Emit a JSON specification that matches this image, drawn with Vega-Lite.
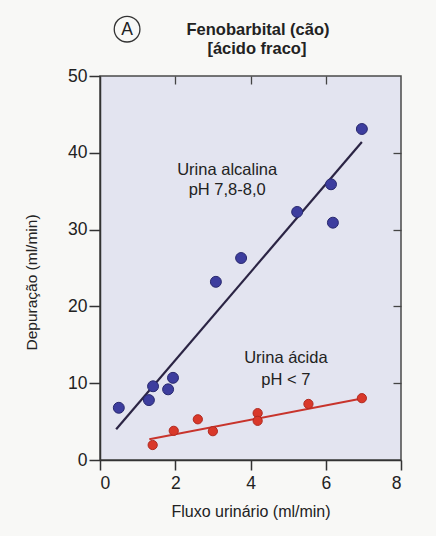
{
  "$schema": "https://vega.github.io/schema/vega-lite/v6.json",
  "width": 301,
  "height": 384,
  "autosize": "none",
  "padding": {"left": 100, "top": 76, "right": 35, "bottom": 76},
  "background": "#f8f8f6",
  "config": {
    "view": {"fill": "#e3e4f0", "stroke": "#4a4a4a", "strokeWidth": 1.5},
    "font": "Liberation Sans",
    "axis": {"grid": false}
  },
  "datasets": {
    "alkPts": [
      {"fluxo": 0.50, "dep": 6.8},
      {"fluxo": 1.30, "dep": 7.8},
      {"fluxo": 1.41, "dep": 9.6},
      {"fluxo": 1.81, "dep": 9.2},
      {"fluxo": 1.94, "dep": 10.7},
      {"fluxo": 3.08, "dep": 23.2},
      {"fluxo": 3.75, "dep": 26.3},
      {"fluxo": 5.24, "dep": 32.3},
      {"fluxo": 6.14, "dep": 35.9},
      {"fluxo": 6.19, "dep": 30.9},
      {"fluxo": 6.96, "dep": 43.1}
    ],
    "acidPts": [
      {"fluxo": 1.40, "dep": 1.95},
      {"fluxo": 1.96, "dep": 3.8},
      {"fluxo": 2.60, "dep": 5.3},
      {"fluxo": 3.00, "dep": 3.75},
      {"fluxo": 4.19, "dep": 6.1},
      {"fluxo": 4.19, "dep": 5.1},
      {"fluxo": 5.54, "dep": 7.3},
      {"fluxo": 6.96, "dep": 8.05}
    ],
    "alkLine": [
      {"fluxo": 0.43, "dep": 4.0},
      {"fluxo": 6.96, "dep": 41.4}
    ],
    "acidLine": [
      {"fluxo": 1.31, "dep": 2.7},
      {"fluxo": 6.96, "dep": 8.0}
    ],
    "labels": [
      {"fluxo": 3.38, "dep": 37.1, "t": "Urina alcalina"},
      {"fluxo": 3.38, "dep": 34.5, "t": "pH 7,8-8,0"},
      {"fluxo": 4.94, "dep": 12.6, "t": "Urina ácida"},
      {"fluxo": 4.94, "dep": 9.8, "t": "pH < 7"}
    ],
    "heading": [
      {"fluxo": 4.2, "dep": 55.3, "t": "Fenobarbital (cão)"},
      {"fluxo": 4.17, "dep": 52.85, "t": "[ácido fraco]"}
    ],
    "panel": [
      {"fluxo": 0.72, "dep": 56.1, "t": "A"}
    ]
  },
  "resolve": {"axis": {"x": "independent", "y": "independent"}},
  "layer": [
    {
      "data": {"name": "alkLine"},
      "mark": {"type": "line", "color": "#2b2444", "strokeWidth": 2.2},
      "encoding": {
        "x": {
          "field": "fluxo", "type": "quantitative",
          "scale": {"domain": [0, 8], "nice": false},
          "axis": {
            "orient": "bottom", "values": [0, 2, 4, 6, 8], "title": "Fluxo urinário (ml/min)",
            "domainColor": "#333333", "domainWidth": 1.5,
            "tickColor": "#333333", "tickWidth": 1.5, "tickSize": 10,
            "labelFontSize": 17.5, "labelColor": "#222222", "labelPadding": 4,
            "titleFontSize": 16, "titleFontWeight": "normal", "titleColor": "#222222",
            "titleBaseline": "alphabetic", "titleY": 56
          }
        },
        "y": {
          "field": "dep", "type": "quantitative",
          "scale": {"domain": [0, 50], "nice": false},
          "axis": {
            "orient": "left", "values": [0, 10, 20, 30, 40, 50], "title": "Depuração (ml/min)",
            "domainColor": "#333333", "domainWidth": 1.5,
            "tickColor": "#333333", "tickWidth": 1.5, "tickSize": 11,
            "labelFontSize": 17.5, "labelColor": "#222222", "labelPadding": 2,
            "titleFontSize": 15.5, "titleFontWeight": "normal", "titleColor": "#222222",
            "titleX": -61, "titleY": 206
          }
        }
      }
    },
    {
      "data": {"name": "acidLine"},
      "mark": {"type": "line", "color": "#c8342c", "strokeWidth": 2},
      "encoding": {
        "x": {
          "field": "fluxo", "type": "quantitative",
          "scale": {"domain": [0, 8], "nice": false},
          "axis": {
            "orient": "top", "values": [2, 4, 6], "labels": false, "title": null, "domain": false,
            "tickColor": "#444444", "tickWidth": 1.3, "tickSize": -8
          }
        },
        "y": {
          "field": "dep", "type": "quantitative",
          "scale": {"domain": [0, 50], "nice": false},
          "axis": {
            "orient": "right", "values": [10, 20, 30, 40], "labels": false, "title": null, "domain": false,
            "tickColor": "#444444", "tickWidth": 1.3, "tickSize": -8
          }
        }
      }
    },
    {
      "data": {"name": "alkPts"},
      "mark": {"type": "point", "filled": true, "size": 120, "color": "#3d3d9e", "stroke": "#29296f", "strokeWidth": 1, "opacity": 1},
      "encoding": {
        "x": {"field": "fluxo", "type": "quantitative", "axis": null},
        "y": {"field": "dep", "type": "quantitative", "axis": null}
      }
    },
    {
      "data": {"name": "acidPts"},
      "mark": {"type": "point", "filled": true, "size": 85, "color": "#d9382a", "stroke": "#b02a20", "strokeWidth": 1, "opacity": 1},
      "encoding": {
        "x": {"field": "fluxo", "type": "quantitative", "axis": null},
        "y": {"field": "dep", "type": "quantitative", "axis": null}
      }
    },
    {
      "data": {"name": "labels"},
      "mark": {"type": "text", "fontSize": 16.5, "color": "#222222", "align": "center", "baseline": "alphabetic"},
      "encoding": {
        "x": {"field": "fluxo", "type": "quantitative", "axis": null},
        "y": {"field": "dep", "type": "quantitative", "axis": null},
        "text": {"field": "t"}
      }
    },
    {
      "data": {"name": "heading"},
      "mark": {"type": "text", "fontSize": 16.5, "fontWeight": "bold", "color": "#222222", "align": "center", "baseline": "alphabetic"},
      "encoding": {
        "x": {"field": "fluxo", "type": "quantitative", "axis": null},
        "y": {"field": "dep", "type": "quantitative", "axis": null},
        "text": {"field": "t"}
      }
    },
    {
      "data": {"name": "panel"},
      "mark": {"type": "point", "shape": "circle", "filled": false, "size": 660, "color": "#333333", "strokeWidth": 1.3, "opacity": 1},
      "encoding": {
        "x": {"field": "fluxo", "type": "quantitative", "axis": null},
        "y": {"field": "dep", "type": "quantitative", "axis": null}
      }
    },
    {
      "data": {"name": "panel"},
      "mark": {"type": "text", "fontSize": 17.5, "color": "#222222", "align": "center", "baseline": "middle", "dy": 1},
      "encoding": {
        "x": {"field": "fluxo", "type": "quantitative", "axis": null},
        "y": {"field": "dep", "type": "quantitative", "axis": null},
        "text": {"field": "t"}
      }
    }
  ]
}
